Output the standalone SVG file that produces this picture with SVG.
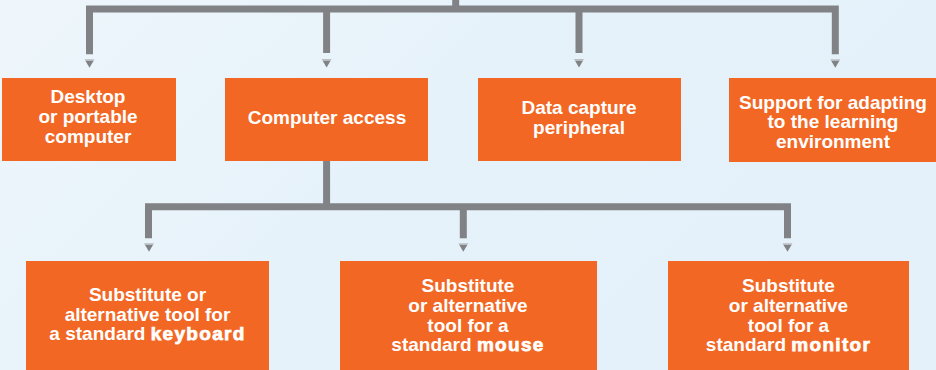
<svg xmlns="http://www.w3.org/2000/svg" width="936" height="370" viewBox="0 0 936 370">
  <defs>
    <linearGradient id="bg" x1="0" y1="0" x2="1" y2="0.4">
      <stop offset="0" stop-color="#eef6fb"/>
      <stop offset="0.5" stop-color="#e6f2fa"/>
      <stop offset="1" stop-color="#e4f1fa"/>
    </linearGradient>
    <linearGradient id="headFill" x1="0" y1="0" x2="0" y2="1">
      <stop offset="0" stop-color="#b9bdc1"/>
      <stop offset="0.22" stop-color="#b9bdc1"/>
      <stop offset="0.25" stop-color="#808285"/>
      <stop offset="1" stop-color="#808285"/>
    </linearGradient>
    <!-- small downward pointer placed just above each box -->
    <path id="head" d="M-5,0 L5,0 L0,8.5 Z" fill="url(#headFill)"/>
  </defs>
  <style>
    .box { fill: #f26724; }
    .wire { fill: none; stroke: #808285; stroke-width: 7; stroke-linejoin: miter; stroke-linecap: butt; }
    .lbl { font-family: "Liberation Sans", Arial, Helvetica, sans-serif; font-weight: bold; font-size: 19px; fill: #ffffff; text-anchor: middle; }
    .heavy { stroke: #ffffff; stroke-width: 0.75; letter-spacing: 1.3px; }
  </style>

  <rect x="0" y="0" width="936" height="370" fill="url(#bg)"/>

  <!-- connectors -->
  <g id="connectors">
    <path class="wire" d="M455.7,0 V9"/>
    <path class="wire" d="M89.5,54.3 V9 H835.3 V54.3"/>
    <path class="wire" d="M326.6,9 V53"/>
    <path class="wire" d="M579,9 V53"/>
    <path class="wire" d="M326.6,160 V206.8"/>
    <path class="wire" d="M148.5,238.3 V206.8 H787.5 V238.3"/>
    <path class="wire" d="M463.3,206.8 V238.3"/>
    <use href="#head" x="89.5" y="59.3"/>
    <use href="#head" x="326.6" y="59"/>
    <use href="#head" x="579" y="59"/>
    <use href="#head" x="835.3" y="59.3"/>
    <use href="#head" x="149" y="243.3"/>
    <use href="#head" x="463.3" y="243.3"/>
    <use href="#head" x="787.5" y="243.3"/>
  </g>

  <g id="desktop">
    <rect class="box" x="2" y="78" width="174" height="83"/>
    <text class="lbl" x="88" y="103.3">Desktop</text>
    <text class="lbl" x="88" y="123">or portable</text>
    <text class="lbl" x="88" y="142.7">computer</text>
  </g>

  <g id="computer-access">
    <rect class="box" x="225" y="78" width="203" height="83"/>
    <text class="lbl" x="327" y="124.3">Computer access</text>
  </g>

  <g id="data-capture">
    <rect class="box" x="478" y="78" width="203" height="83"/>
    <text class="lbl" x="579" y="114.3">Data capture</text>
    <text class="lbl" x="579" y="133.5">peripheral</text>
  </g>

  <g id="learning-support">
    <rect class="box" x="729" y="78" width="207" height="84"/>
    <text class="lbl" x="833" y="108.6">Support for adapting</text>
    <text class="lbl" x="833" y="128.2">to the learning</text>
    <text class="lbl" x="833" y="147.7">environment</text>
  </g>

  <g id="keyboard">
    <rect class="box" x="26" y="261" width="243" height="109"/>
    <text class="lbl" x="147.5" y="300.7">Substitute or</text>
    <text class="lbl" x="147.5" y="320.5">alternative tool for</text>
    <text class="lbl" x="147.5" y="340">a standard <tspan class="heavy">keyboard</tspan></text>
  </g>

  <g id="mouse">
    <rect class="box" x="340" y="261" width="257" height="109"/>
    <text class="lbl" x="468" y="292.3">Substitute</text>
    <text class="lbl" x="468" y="312">or alternative</text>
    <text class="lbl" x="468" y="331.5">tool for a</text>
    <text class="lbl" x="468" y="350.8">standard <tspan class="heavy">mouse</tspan></text>
  </g>

  <g id="monitor">
    <rect class="box" x="668" y="261" width="241" height="109"/>
    <text class="lbl" x="788.5" y="292.3">Substitute</text>
    <text class="lbl" x="788.5" y="312">or alternative</text>
    <text class="lbl" x="788.5" y="331.5">tool for a</text>
    <text class="lbl" x="788.5" y="350.8">standard <tspan class="heavy">monitor</tspan></text>
  </g>
</svg>
